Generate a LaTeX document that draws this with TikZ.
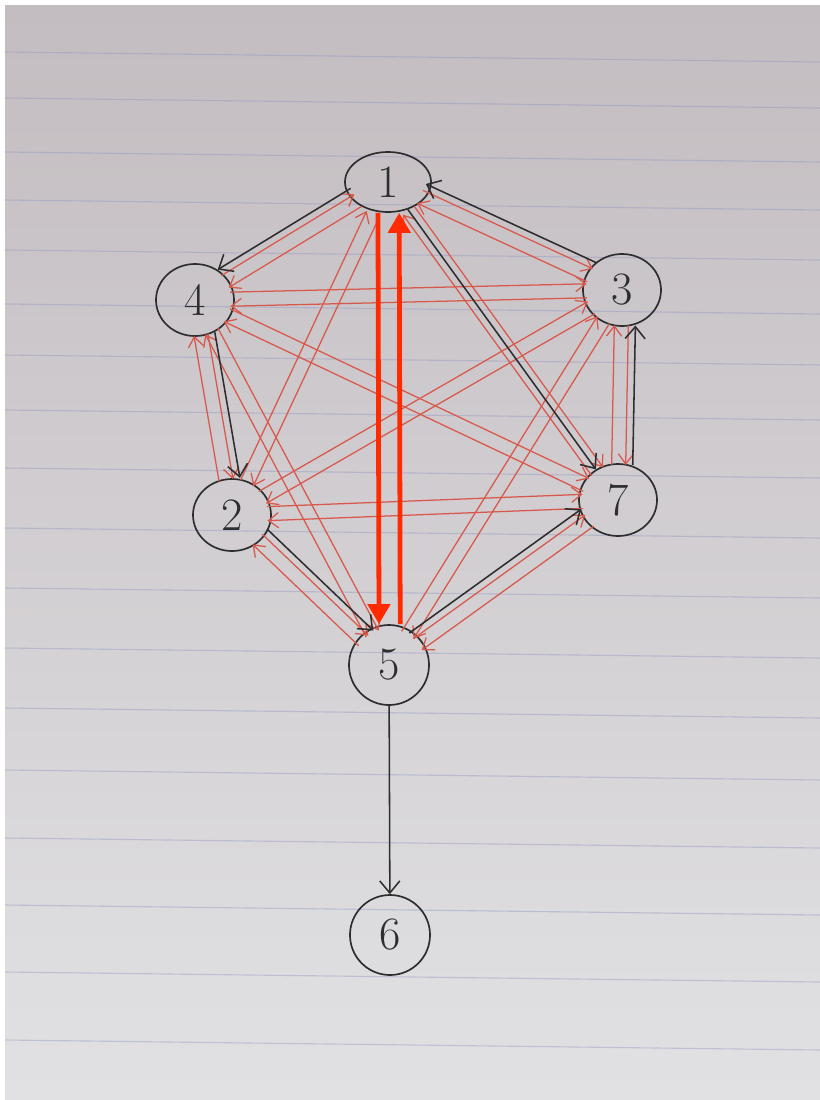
\documentclass[tikz,border=0pt]{standalone}
\usepackage{tikz}
\usetikzlibrary{arrows.meta,shapes.geometric,calc}
\definecolor{papertop}{HTML}{C3BCC0}
\definecolor{paperbot}{HTML}{E1E1E3}
\definecolor{ruleblue}{HTML}{8E92C4}
\definecolor{pencil}{HTML}{2E2E2E}
\definecolor{redpen}{HTML}{D8584C}
\definecolor{redmark}{HTML}{FF2A00}
\tikzset{
  vtx/.style    = {ellipse, draw=pencil, line width=1.2pt, text=pencil, inner sep=0pt,
                   minimum width=1.95cm, minimum height=1.8cm,
                   font=\fontsize{33}{35}\selectfont},
  blk/.style    = {-{Straight Barb[length=3mm,width=5mm]}, draw=pencil, line width=1.1pt},
  blkoff/.style = {blk, shorten <=0.88cm, shorten >=0.88cm},
  redarr/.style = {-{Straight Barb[length=2.5mm,width=3.8mm]}, draw=redpen, line width=0.9pt,
                   shorten <=0.88cm, shorten >=0.88cm},
  bigred/.style = {-{Triangle[length=5mm,width=5.5mm]}, draw=redmark, line width=3.4pt},
  ruling/.style = {draw=ruleblue, line width=0.8pt, opacity=0.4},
}
\begin{document}
\begin{tikzpicture}[x=0.025cm, y=-0.025cm]
  \useasboundingbox (0,0) rectangle (820,1100);
  % paper
  \fill[white] (0,0) rectangle (820,1100);
  \fill[top color=papertop, bottom color=paperbot] (5,5) rectangle (820,1100);
  \foreach \y in {52,98,152,200,250,304,355,410,468,528,588,648,708,770,838,905,972,1040}
    \draw[ruling] (5,\y) -- (820,\y+10);

  % vertices
  \node[vtx, minimum width=2.15cm, minimum height=1.5cm] (n1) at (388,182) {1};
  \node[vtx] (n3) at (622,290) {3};
  \node[vtx] (n4) at (195,300) {4};
  \node[vtx] (n2) at (232,515) {2};
  \node[vtx] (n7) at (618,500) {7};
  \node[vtx, minimum width=2cm, minimum height=2cm] (n5) at (389,665) {5};
  \node[vtx, minimum width=2cm, minimum height=2cm] (n6) at (390,935) {6};

  % red: every pair both ways
  \foreach \a/\b in {n1/n4, n1/n3, n1/n2, n1/n7, n4/n3, n4/n7, n4/n2, n4/n5,
                     n3/n2, n3/n7, n3/n5, n2/n7, n2/n5, n7/n5} {
    \draw[redarr] ($(\a)!5pt!90:(\b)$) -- ($(\b)!5pt!-90:(\a)$);
    \draw[redarr] ($(\b)!5pt!90:(\a)$) -- ($(\a)!5pt!-90:(\b)$);
  }

  % black edges (outer ones pushed off the red pairs)
  \foreach \a/\b/\s in {n3/n1/-1, n1/n4/-1, n7/n3/-1, n4/n2/1, n2/n5/1, n5/n7/1}
    \draw[blkoff] ($(\a)!10pt!\s*90:(\b)$) -- ($(\b)!10pt!-\s*90:(\a)$);
  \draw[blk] (n1) -- (n7);
  \draw[blk] (n5) -- (n6);

  % marked pair 1 <-> 5
  \draw[bigred] ([xshift=-0.25cm]n1.south) -- ([xshift=-0.25cm]n5.north);
  \draw[bigred] ([xshift=0.28cm]n5.north) -- ([xshift=0.28cm]n1.south);
\end{tikzpicture}
\end{document}
